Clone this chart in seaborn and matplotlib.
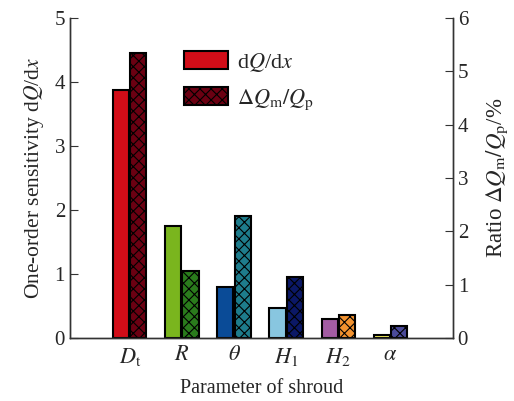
import numpy as np
import pandas as pd
import seaborn as sns
import matplotlib.pyplot as plt
from matplotlib.patches import Patch

sns.set_style('white')
plt.rcParams['font.family'] = ['Liberation Serif', 'DejaVu Serif']
plt.rcParams['mathtext.fontset'] = 'stix'
plt.rcParams['hatch.linewidth'] = 0.8

# parameters of the shroud
params = [r'$D_\mathrm{t}$', r'$R$', r'$\theta$', r'$H_1$', r'$H_2$', r'$\alpha$']
# one-order sensitivity dQ/dx (left axis)
sensitivity = [3.87, 1.75, 0.79, 0.47, 0.29, 0.053]
# ratio dQm/Qp in % (right axis)
ratio = [5.35, 1.25, 2.29, 1.14, 0.44, 0.22]

colors_sens = ['#d20d18', '#7ab51e', '#0a4b97', '#88c6e0', '#a35ca3', '#f2ee5e']
colors_ratio = ['#6b0012', '#2a7b1c', '#1e7c8c', '#0b1866', '#f2922f', '#4b4b9a']

df = pd.DataFrame({'param': params, 'sens': sensitivity, 'ratio': ratio})

fig = plt.figure(figsize=(5.14, 4.01), dpi=100)
ax1 = fig.add_axes([0.136, 0.157, 0.745, 0.798])
ax2 = ax1.twinx()

w = 0.31
shift = 0.165
sns.barplot(data=df, x='param', y='sens', hue='param', palette=colors_sens,
            saturation=1, width=w, ax=ax1, legend=False,
            edgecolor='black', linewidth=1.5)
sns.barplot(data=df, x='param', y='ratio', hue='param', palette=colors_ratio,
            saturation=1, width=w, ax=ax2, legend=False,
            edgecolor='black', linewidth=1.5)

for p in ax1.patches:
    p.set_x(p.get_x() - shift)
for p in ax2.patches:
    p.set_x(p.get_x() + shift)
    p.set_hatch('xxx')

ax1.set_xlim(-1.15, 6.2)
ax1.set_ylim(0, 5)
ax2.set_ylim(0, 6)
ax1.set_yticks(range(6))
ax2.set_yticks(range(7))

ax1.set_xlabel('Parameter of shroud', fontsize=14.5, labelpad=8)
ax1.set_ylabel(r'One-order sensitivity d$Q$/d$x$', fontsize=15.5, labelpad=6)
ax2.set_ylabel(r'Ratio $\Delta Q_\mathrm{m}/Q_\mathrm{p}$/%', fontsize=16.5, labelpad=12)

ax1.tick_params(axis='y', direction='in', length=6, labelsize=15, color='#333333')
ax2.tick_params(axis='y', direction='in', length=6, labelsize=15, color='#333333')
ax1.tick_params(axis='x', length=0, labelsize=16, pad=6)
ax2.tick_params(axis='x', length=0)

for ax in (ax1, ax2):
    ax.spines['top'].set_visible(False)
    for s in ['left', 'right', 'bottom']:
        ax.spines[s].set_color('#333333')
        ax.spines[s].set_linewidth(1.0)

handles = [Patch(facecolor=colors_sens[0], edgecolor='black', linewidth=1.5),
           Patch(facecolor=colors_ratio[0], edgecolor='black', linewidth=1.5, hatch='xxx')]
labels = [r'd$Q$/d$x$', r'$\Delta Q_\mathrm{m}/Q_\mathrm{p}$']
ax1.legend(handles, labels, loc='upper left', bbox_to_anchor=(0.245, 0.96),
           frameon=False, fontsize=16, handlelength=2.0, handleheight=0.85,
           labelspacing=0.6, handletextpad=0.4)

fig.savefig('out.png', dpi=100)
